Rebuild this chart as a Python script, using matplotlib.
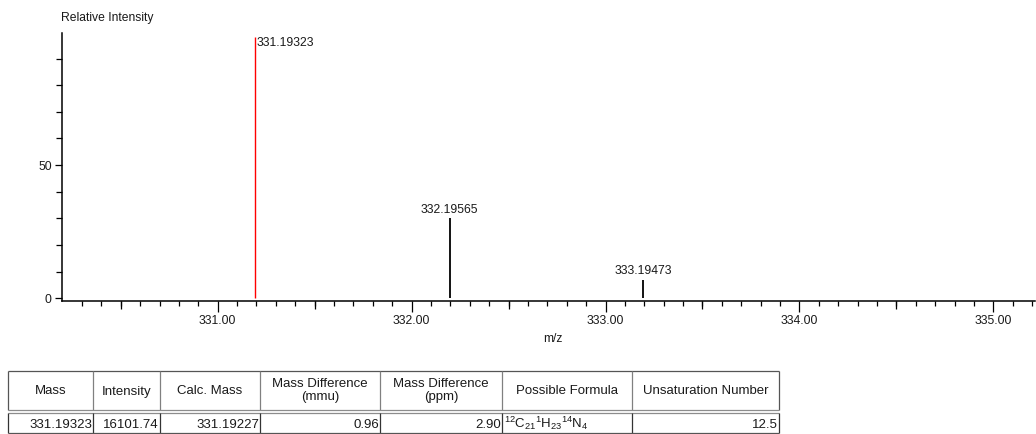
import matplotlib
matplotlib.use("Agg")
import matplotlib.pyplot as plt
from matplotlib.ticker import FixedLocator, MultipleLocator, NullFormatter

# ---- spectrum data ----
peak_mz = [331.19323, 332.19565, 333.19473]
peak_intensity = [98.0, 30.0, 7.0]
peak_labels = ["331.19323", "332.19565", "333.19473"]

x_major_ticks = [331.0, 332.0, 333.0, 334.0, 335.0]
x_tick_labels = ["331.00", "332.00", "333.00", "334.00", "335.00"]
y_major_ticks = [0, 50]
y_tick_labels = ["0", "50"]

# ---- result table ----
table_headers = ["Mass", "Intensity", "Calc. Mass", "Mass Difference\n(mmu)",
                 "Mass Difference\n(ppm)", "Possible Formula", "Unsaturation Number"]
table_row = ["331.19323", "16101.74", "331.19227", "0.96", "2.90",
             r"$\mathregular{^{12}C_{21}{}^{1}H_{23}{}^{14}N_{4}}$", "12.5"]

plt.rcParams["font.family"] = ["Liberation Sans", "DejaVu Sans"]
plt.rcParams["mathtext.fontset"] = "custom"
plt.rcParams["mathtext.rm"] = "Liberation Sans"
plt.rcParams["mathtext.it"] = "Liberation Sans:italic"
plt.rcParams["mathtext.bf"] = "Liberation Sans:bold"

W, H = 1036, 434
fig = plt.figure(figsize=(W / 100, H / 100), dpi=100)
fig.patch.set_facecolor("white")

TXT = "#1a1a1a"
FS = 8.7

# spectrum axes (pixel layout converted to figure fractions)
left_px, right_px, top_px, bottom_px = 62, 1035, 33, 300.7
ax = fig.add_axes([left_px / W, (H - bottom_px) / H,
                   (right_px - left_px) / W, (bottom_px - top_px) / H])
ax.set_xlim(330.197, 335.215)
ax.set_ylim(-0.9, 99.6)

for sp in ("top", "right"):
    ax.spines[sp].set_visible(False)
for sp in ("left", "bottom"):
    ax.spines[sp].set_linewidth(1.1)
    ax.spines[sp].set_color("black")

# peaks
for i, (mz, inten, lab) in enumerate(zip(peak_mz, peak_intensity, peak_labels)):
    if i == 0:
        ax.vlines(mz, 0, inten, color="#ff0000", lw=1.0, zorder=3)
        ax.annotate(lab, (mz, inten), xytext=(1, 0), textcoords="offset points",
                    ha="left", va="top", fontsize=FS, color=TXT)
    else:
        ax.vlines(mz, 0, inten, color="black", lw=1.3, zorder=3)
        ax.annotate(lab, (mz, inten), xytext=(0, 2), textcoords="offset points",
                    ha="center", va="bottom", fontsize=FS, color=TXT)

# x ticks: integers (long, labelled), tenths (short), starting at 330.3
ax.xaxis.set_major_locator(FixedLocator(x_major_ticks))
ax.set_xticklabels(x_tick_labels)
tenth_ticks = [round(330.3 + 0.1 * k, 1) for k in range(50)]
ax.xaxis.set_minor_locator(FixedLocator(tenth_ticks))
ax.tick_params(axis="x", which="major", length=8, width=0.9, pad=2,
               labelsize=FS, labelcolor=TXT)
ax.tick_params(axis="x", which="minor", length=3.9, width=0.9)

# half-unit ticks of medium length
half_ticks = [t + 0.5 for t in [330.0] + x_major_ticks[:-1]]
sec = ax.secondary_xaxis("bottom")
sec.xaxis.set_major_locator(FixedLocator(half_ticks))
sec.xaxis.set_major_formatter(NullFormatter())
sec.tick_params(axis="x", which="major", length=6, width=0.9)
sec.spines["bottom"].set_visible(False)

# y ticks
ax.yaxis.set_major_locator(FixedLocator(y_major_ticks))
ax.set_yticklabels(y_tick_labels)
ax.yaxis.set_minor_locator(MultipleLocator(10))
ax.tick_params(axis="y", which="major", length=5.4, width=0.9, pad=2,
               labelsize=FS, labelcolor=TXT)
ax.tick_params(axis="y", which="minor", length=4.2, width=0.9)

fig.text(61 / W, 1 - 18 / H, "Relative Intensity", ha="left", va="center",
         fontsize=FS, color=TXT)
fig.text(553 / W, 1 - 339 / H, "m/z", ha="center", va="center",
         fontsize=FS, color=TXT)

# ---- table, drawn on a full-figure overlay in pixel units ----
tx = fig.add_axes([0, 0, 1, 1], facecolor="none")
tx.set_xlim(0, W)
tx.set_ylim(H, 0)
tx.axis("off")

col_edges = [8, 93, 160, 260, 380, 502, 632, 779]
t_top, hdr_a, hdr_b, t_bot = 371, 410, 413, 433
TFS = 9.5

# header row
tx.hlines(t_top, col_edges[0], col_edges[-1], color="#555555", lw=0.9)
for x in col_edges:
    edge = x in (col_edges[0], col_edges[-1])
    tx.vlines(x, t_top, hdr_a, color="#555555" if edge else "#808080", lw=0.9)
tx.hlines([hdr_a, hdr_b], col_edges[0], col_edges[-1], color="#8c8c8c", lw=0.9)

# data row
for x in col_edges:
    tx.vlines(x, hdr_b, t_bot, color="#333333", lw=0.9)
tx.hlines(t_bot, col_edges[0], col_edges[-1], color="#555555", lw=0.9)

hdr_y = (t_top + hdr_a) / 2
row_y = (hdr_b + t_bot) / 2 + 0.5
for j, h in enumerate(table_headers):
    cx = (col_edges[j] + col_edges[j + 1]) / 2
    tx.text(cx, hdr_y + (0 if "\n" in h else 4), h, ha="center",
            va="center" if "\n" in h else "baseline",
            fontsize=TFS, color=TXT, linespacing=1.15)
for j, v in enumerate(table_row):
    if v.startswith("$"):
        tx.text(col_edges[j] + 2, row_y, v, ha="left", va="center",
                fontsize=TFS, color=TXT)
    else:
        tx.text(col_edges[j + 1] - 1, row_y + 4, v, ha="right", va="baseline",
                fontsize=TFS, color=TXT)

fig.savefig("out.png", dpi=100)
